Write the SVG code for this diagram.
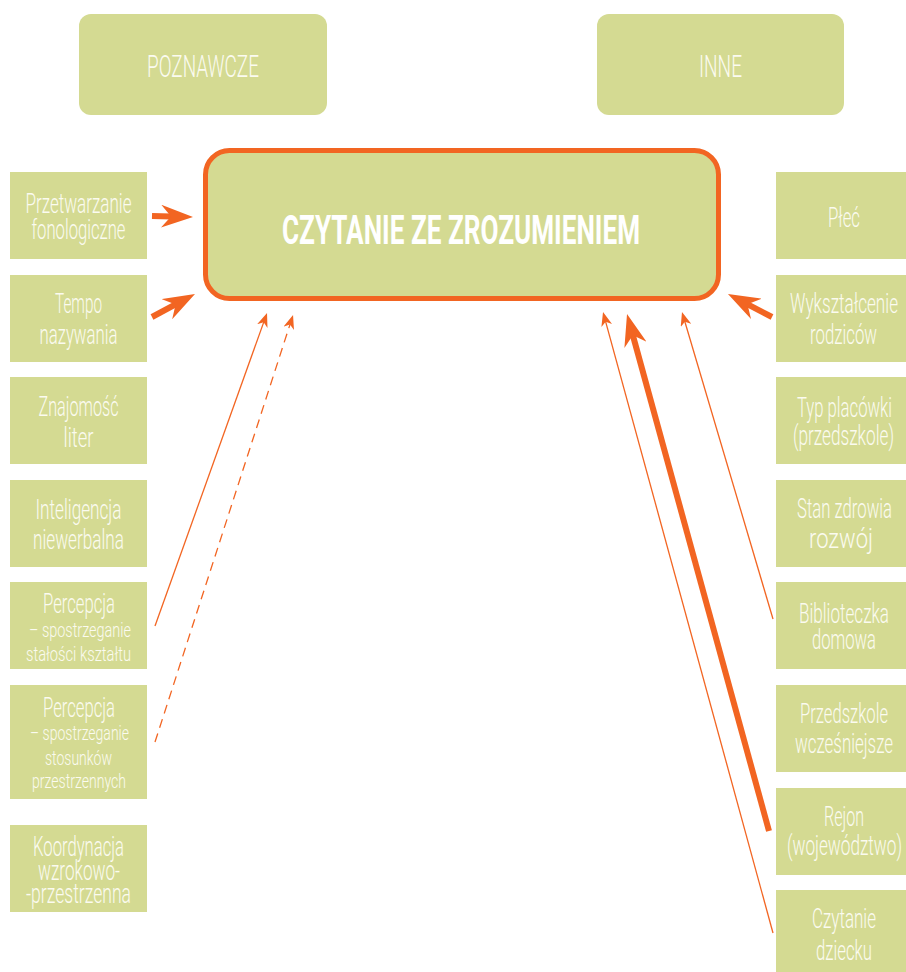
<svg xmlns="http://www.w3.org/2000/svg" width="906" height="972" viewBox="0 0 906 972">
  <style>
    .box { fill: #D4DA92; }
    .lbl { font-family: Roboto, "Liberation Sans", "DejaVu Sans", sans-serif; font-weight: 300; font-size: 27px; fill: #FBFBF0; text-anchor: middle; }
    .sm { font-size: 21px; }
    .hdr { font-size: 32px; }
    .title { font-family: Roboto, "Liberation Sans", "DejaVu Sans", sans-serif; font-weight: 700; font-size: 41px; fill: #FFFFFF; text-anchor: middle; }
    .thick { stroke: #F26522; stroke-width: 6; fill: none; }
    .thin { stroke: #F26522; stroke-width: 1.3; fill: none; }
    .dash { stroke-dasharray: 9 6; }
  </style>
  <defs>
    <marker id="head-thick" markerUnits="userSpaceOnUse" viewBox="0 0 32 23" markerWidth="32" markerHeight="23" refX="20" refY="11.5" orient="auto">
      <path d="M0,0 L32,11.5 L0,23 L10,11.5 Z" fill="#F26522"/>
    </marker>
    <marker id="head-thin" markerUnits="userSpaceOnUse" viewBox="0 0 14 11" markerWidth="14" markerHeight="11" refX="8" refY="5.5" orient="auto">
      <path d="M0,0 L14,5.5 L0,11 L4,5.5 Z" fill="#F26522"/>
    </marker>
  </defs>

  <!-- category headers -->
  <g id="poznawcze">
    <rect class="box" x="79" y="14" width="248" height="101" rx="12"/>
    <text class="lbl hdr" x="203" y="77" textLength="112" lengthAdjust="spacingAndGlyphs">POZNAWCZE</text>
  </g>
  <g id="inne">
    <rect class="box" x="597" y="14" width="247" height="101" rx="12"/>
    <text class="lbl hdr" x="720.5" y="77" textLength="43" lengthAdjust="spacingAndGlyphs">INNE</text>
  </g>

  <!-- central outcome -->
  <g id="czytanie">
    <rect x="205.5" y="150.5" width="513" height="148" rx="24" fill="#D4DA92" stroke="#F26522" stroke-width="5"/>
    <text class="title" x="461" y="244" textLength="358" lengthAdjust="spacingAndGlyphs">CZYTANIE ZE ZROZUMIENIEM</text>
  </g>

  <!-- cognitive factors -->
  <g id="przetwarzanie">
    <rect class="box" x="10" y="172" width="137" height="87"/>
    <text class="lbl" x="78.5" y="213" textLength="106" lengthAdjust="spacingAndGlyphs">Przetwarzanie</text>
    <text class="lbl" x="78.5" y="239" textLength="94" lengthAdjust="spacingAndGlyphs">fonologiczne</text>
  </g>
  <g id="tempo">
    <rect class="box" x="10" y="275" width="137" height="87"/>
    <text class="lbl" x="78.5" y="313" textLength="47" lengthAdjust="spacingAndGlyphs">Tempo</text>
    <text class="lbl" x="78.5" y="344" textLength="78" lengthAdjust="spacingAndGlyphs">nazywania</text>
  </g>
  <g id="znajomosc">
    <rect class="box" x="10" y="377" width="137" height="87"/>
    <text class="lbl" x="78.5" y="416" textLength="80" lengthAdjust="spacingAndGlyphs">Znajomość</text>
    <text class="lbl" x="78.5" y="447" textLength="30" lengthAdjust="spacingAndGlyphs">liter</text>
  </g>
  <g id="inteligencja">
    <rect class="box" x="10" y="480" width="137" height="87"/>
    <text class="lbl" x="78.5" y="519" textLength="86" lengthAdjust="spacingAndGlyphs">Inteligencja</text>
    <text class="lbl" x="78.5" y="549" textLength="91" lengthAdjust="spacingAndGlyphs">niewerbalna</text>
  </g>
  <g id="percepcja-ksztalt">
    <rect class="box" x="10" y="582" width="137" height="87"/>
    <text class="lbl" x="79" y="613" textLength="72" lengthAdjust="spacingAndGlyphs">Percepcja</text>
    <text class="lbl sm" x="80" y="637" textLength="102" lengthAdjust="spacingAndGlyphs">–  spostrzeganie</text>
    <text class="lbl sm" x="78.5" y="661" textLength="105" lengthAdjust="spacingAndGlyphs">stałości kształtu</text>
  </g>
  <g id="percepcja-stosunki">
    <rect class="box" x="10" y="685" width="137" height="114"/>
    <text class="lbl" x="79" y="717" textLength="72" lengthAdjust="spacingAndGlyphs">Percepcja</text>
    <text class="lbl sm" x="79.5" y="740" textLength="99" lengthAdjust="spacingAndGlyphs">– spostrzeganie</text>
    <text class="lbl sm" x="78.5" y="765" textLength="67" lengthAdjust="spacingAndGlyphs">stosunków</text>
    <text class="lbl sm" x="79" y="788" textLength="94" lengthAdjust="spacingAndGlyphs">przestrzennych</text>
  </g>
  <g id="koordynacja">
    <rect class="box" x="10" y="825" width="137" height="87"/>
    <text class="lbl" x="78.5" y="856" textLength="91" lengthAdjust="spacingAndGlyphs">Koordynacja</text>
    <text class="lbl" x="79" y="880" textLength="82" lengthAdjust="spacingAndGlyphs">wzrokowo-</text>
    <text class="lbl" x="78.5" y="903" textLength="105" lengthAdjust="spacingAndGlyphs">-przestrzenna</text>
  </g>

  <!-- other factors -->
  <g id="plec">
    <rect class="box" x="776" y="172" width="130" height="87"/>
    <text class="lbl" x="844" y="227" textLength="32" lengthAdjust="spacingAndGlyphs">Płeć</text>
  </g>
  <g id="wyksztalcenie">
    <rect class="box" x="776" y="275" width="130" height="87"/>
    <text class="lbl" x="844" y="313" textLength="108" lengthAdjust="spacingAndGlyphs">Wykształcenie</text>
    <text class="lbl" x="843.5" y="344" textLength="67" lengthAdjust="spacingAndGlyphs">rodziców</text>
  </g>
  <g id="typ-placowki">
    <rect class="box" x="776" y="377" width="130" height="87"/>
    <text class="lbl" x="844.5" y="417" textLength="95" lengthAdjust="spacingAndGlyphs">Typ placówki</text>
    <text class="lbl" x="843.5" y="445" textLength="101" lengthAdjust="spacingAndGlyphs">(przedszkole)</text>
  </g>
  <g id="stan-zdrowia">
    <rect class="box" x="776" y="480" width="130" height="87"/>
    <text class="lbl" x="844.5" y="518" textLength="95" lengthAdjust="spacingAndGlyphs">Stan zdrowia</text>
    <text class="lbl" x="841" y="548" textLength="64" lengthAdjust="spacingAndGlyphs">rozwój</text>
  </g>
  <g id="biblioteczka">
    <rect class="box" x="776" y="582" width="130" height="87"/>
    <text class="lbl" x="844" y="623" textLength="90" lengthAdjust="spacingAndGlyphs">Biblioteczka</text>
    <text class="lbl" x="844" y="649" textLength="64" lengthAdjust="spacingAndGlyphs">domowa</text>
  </g>
  <g id="przedszkole">
    <rect class="box" x="776" y="685" width="130" height="87"/>
    <text class="lbl" x="844" y="723" textLength="88" lengthAdjust="spacingAndGlyphs">Przedszkole</text>
    <text class="lbl" x="844" y="753" textLength="98" lengthAdjust="spacingAndGlyphs">wcześniejsze</text>
  </g>
  <g id="rejon">
    <rect class="box" x="776" y="788" width="130" height="87"/>
    <text class="lbl" x="844" y="826" textLength="40" lengthAdjust="spacingAndGlyphs">Rejon</text>
    <text class="lbl" x="844.5" y="855" textLength="115" lengthAdjust="spacingAndGlyphs">(województwo)</text>
  </g>
  <g id="czytanie-dziecku">
    <rect class="box" x="776" y="890" width="130" height="82"/>
    <text class="lbl" x="844" y="928" textLength="64" lengthAdjust="spacingAndGlyphs">Czytanie</text>
    <text class="lbl" x="844" y="960" textLength="56" lengthAdjust="spacingAndGlyphs">dziecku</text>
  </g>

  <!-- influence arrows -->
  <g id="connectors">
    <line class="thick" x1="152" y1="216" x2="181" y2="216.7" marker-end="url(#head-thick)"/>
    <line class="thick" x1="152" y1="317" x2="184.4" y2="299.7" marker-end="url(#head-thick)"/>
    <line class="thin" x1="155" y1="626" x2="265" y2="318.6" marker-end="url(#head-thin)"/>
    <line class="thin dash" x1="155" y1="742" x2="291.2" y2="320.7" marker-end="url(#head-thin)"/>
    <line class="thick" x1="772" y1="317" x2="738.6" y2="299.6" marker-end="url(#head-thick)"/>
    <line class="thin" x1="773" y1="619" x2="683.7" y2="317.8" marker-end="url(#head-thin)"/>
    <line class="thick" x1="769" y1="831" x2="630.2" y2="325.6" marker-end="url(#head-thick)"/>
    <line class="thin" x1="773" y1="933" x2="604.6" y2="317.8" marker-end="url(#head-thin)"/>
  </g>
</svg>
